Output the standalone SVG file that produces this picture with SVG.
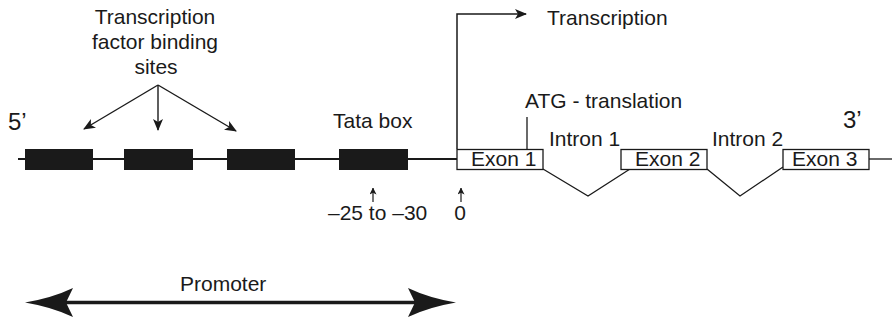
<svg xmlns="http://www.w3.org/2000/svg" width="892" height="321" viewBox="0 0 892 321">
<defs>
<style>
text{font-family:"Liberation Sans",Arial,sans-serif;font-size:21px;fill:#1a1a1a}
.big{font-size:24px}
.ln{stroke:#1a1a1a;fill:none}
.blk{fill:#1a1a1a}
.ex{fill:#fff;stroke:#1a1a1a;stroke-width:1.3}
</style>
<marker id="ah" viewBox="0 0 12 10" refX="11" refY="5" markerWidth="12" markerHeight="10" markerUnits="userSpaceOnUse" orient="auto">
<path d="M0,0 L12,5 L0,10 L3,5 Z" fill="#1a1a1a"/>
</marker>
<marker id="ahs" viewBox="0 0 8 8" refX="7.5" refY="4" markerWidth="7" markerHeight="7" markerUnits="userSpaceOnUse" orient="auto">
<path d="M0,0 L8,4 L0,8 L2,4 Z" fill="#1a1a1a"/>
</marker>
</defs>
<g id="labels">
<text x="155" y="24" text-anchor="middle">Transcription</text>
<text x="155" y="49" text-anchor="middle">factor binding</text>
<text x="156" y="74" text-anchor="middle">sites</text>
<text class="big" x="8" y="130">5’</text>
<text class="big" x="843" y="128">3’</text>
<text x="333" y="128">Tata box</text>
<text x="328" y="220">–25 to –30</text>
<text x="460" y="220" text-anchor="middle">0</text>
<text x="547" y="25">Transcription</text>
<text x="525" y="108">ATG - translation</text>
<text x="549" y="146">Intron 1</text>
<text x="712" y="146">Intron 2</text>
</g>
<g id="connectors">
<line class="ln" x1="18" y1="159" x2="457" y2="159" stroke-width="2"/>
<line class="ln" x1="869" y1="159" x2="892" y2="159" stroke-width="1.3"/>
<polyline class="ln" points="543,169 588,196 630,169" stroke-width="1.3"/>
<polyline class="ln" points="707,169 740,196 783,167" stroke-width="1.3"/>
<line class="ln" x1="527" y1="117" x2="527" y2="149" stroke-width="1.3"/>
<polyline class="ln" points="457,149 457,14 526,14" stroke-width="1.5" marker-end="url(#ah)"/>
<line class="ln" x1="158" y1="85" x2="84" y2="129" stroke-width="1.4" marker-end="url(#ah)"/>
<line class="ln" x1="158" y1="85" x2="158" y2="130" stroke-width="1.4" marker-end="url(#ah)"/>
<line class="ln" x1="158" y1="85" x2="236" y2="131" stroke-width="1.4" marker-end="url(#ah)"/>
<line class="ln" x1="373" y1="202" x2="373" y2="188" stroke-width="1.2" marker-end="url(#ahs)"/>
<line class="ln" x1="461" y1="202" x2="461" y2="188" stroke-width="1.2" marker-end="url(#ahs)"/>
</g>
<g id="tf1"><rect class="blk" x="25" y="149" width="68" height="21"/></g>
<g id="tf2"><rect class="blk" x="124" y="149" width="69" height="21"/></g>
<g id="tf3"><rect class="blk" x="227" y="149" width="68" height="21"/></g>
<g id="tata"><rect class="blk" x="339" y="149" width="69" height="21"/></g>
<g id="exon1"><rect class="ex" x="457" y="149.5" width="86" height="20"/><text x="471" y="166">Exon 1</text></g>
<g id="exon2"><rect class="ex" x="621" y="149.5" width="86" height="20"/><text x="635" y="166">Exon 2</text></g>
<g id="exon3"><rect class="ex" x="783" y="149.5" width="86" height="20"/><text x="792" y="166">Exon 3</text></g>
<g id="promoter">
<text x="180" y="291">Promoter</text>
<line class="ln" x1="60" y1="302.5" x2="420" y2="302.5" stroke-width="3.5"/>
<path class="blk" d="M25,302.5 Q52,298 73,288 L66,302.5 L73,317 Q52,307 25,302.5 Z"/>
<path class="blk" d="M456,302.5 Q429,298 408,288 L415,302.5 L408,317 Q429,307 456,302.5 Z"/>
</g>
</svg>
